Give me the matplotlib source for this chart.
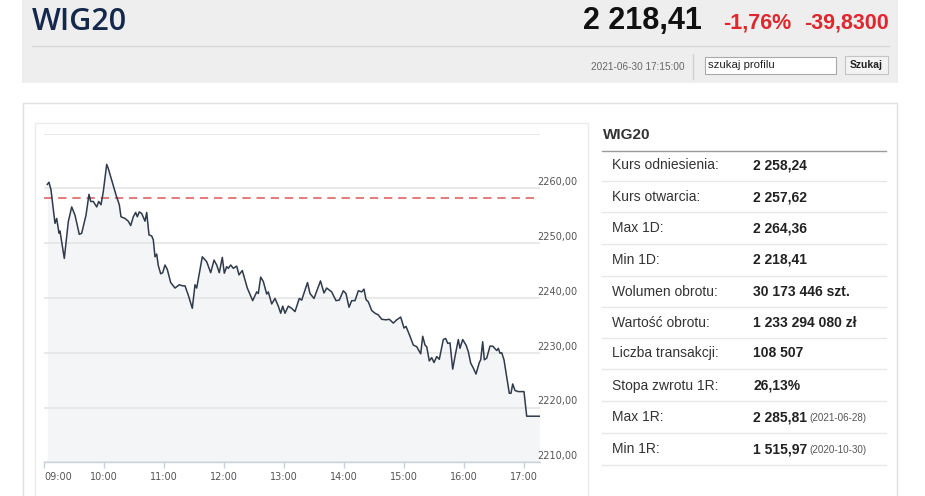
import matplotlib
matplotlib.use("Agg")
import matplotlib.pyplot as plt
from matplotlib.patches import Rectangle

# intraday WIG20 quotes, minutes after 09:00 and index level
minutes_after_9 = [
    3.0, 4.7, 6.7, 10.7, 12.4, 14.7, 15.7, 20.0, 24.0, 27.4, 30.7, 35.0, 37.4, 41.7,
    44.7, 46.4, 49.0, 52.4, 54.4, 56.7, 59.0, 62.4, 64.0, 67.4, 71.7, 75.0, 76.7, 80.7,
    84.0, 86.4, 89.0, 91.4, 93.0, 95.0, 97.4, 100.7, 102.4, 104.7, 107.4, 109.0, 110.7,
    112.4, 114.0, 116.4, 118.4, 120.7, 123.0, 126.4, 130.7, 135.0, 138.4, 140.7, 144.0,
    148.0, 150.7, 152.4, 158.0, 162.4, 166.4, 169.7, 172.4, 175.0, 178.0, 180.0, 182.4,
    184.0, 186.4, 189.0, 192.4, 194.7, 198.0, 203.0, 208.4, 212.4, 214.0, 216.4, 219.0,
    222.4, 224.0, 227.4, 230.7, 234.0, 236.4, 238.4, 240.7, 244.0, 247.4, 250.7, 255.0,
    257.4, 263.2, 265.7, 269.7, 276.2, 279.7, 282.4, 287.4, 291.7, 295.0, 299.0, 301.7,
    304.7, 307.4, 310.7, 314.0, 317.4, 319.7, 321.7, 324.0, 327.4, 330.7, 334.0, 337.4,
    341.7, 345.0, 349.0, 352.4, 356.4, 359.7, 361.7, 365.7, 369.0, 372.4, 376.4, 378.4,
    380.7, 382.4, 385.0, 387.4, 389.7, 392.4, 395.0, 399.0, 401.4, 403.4, 405.7, 408.4,
    410.7, 414.0, 415.7, 418.4, 421.7, 424.0, 426.4, 429.0, 431.7, 435.0, 436.4, 438.4,
    440.0, 442.4, 445.7, 448.4, 452.4, 454.0, 455.7, 457.4, 459.7, 462.4, 465.0, 466.7,
    468.4, 470.7, 474.0, 479.7, 482.4, 495.0,
]
index_level = [
    2260.7, 2261.1, 2259.7, 2253.6, 2254.5, 2251.8, 2252.2, 2247.2, 2253.9, 2256.6, 2255.1,
    2251.6, 2251.8, 2255.1, 2258.9, 2257.6, 2257.6, 2256.6, 2257.6, 2257.0, 2259.4, 2264.36,
    2263.6, 2261.5, 2258.8, 2257.0, 2254.8, 2254.5, 2254.0, 2253.2, 2254.8, 2255.6, 2254.8,
    2255.7, 2255.4, 2254.0, 2255.6, 2251.5, 2251.3, 2250.6, 2247.5, 2248.0, 2245.9, 2244.4,
    2244.6, 2246.0, 2245.2, 2242.8, 2241.8, 2242.4, 2242.2, 2242.2, 2240.5, 2238.1, 2242.4,
    2241.8, 2247.5, 2246.6, 2244.6, 2246.9, 2246.0, 2244.6, 2247.4, 2244.5, 2245.7, 2245.4,
    2246.0, 2245.4, 2245.8, 2244.2, 2245.0, 2241.8, 2239.5, 2241.1, 2240.8, 2243.8, 2243.0,
    2240.7, 2241.1, 2238.9, 2239.9, 2238.5, 2237.2, 2238.5, 2237.2, 2238.5, 2238.1, 2237.5,
    2239.9, 2239.6, 2242.8, 2240.8, 2239.9, 2243.1, 2240.9, 2241.8, 2241.1, 2239.5, 2239.6,
    2241.3, 2240.8, 2238.3, 2239.5, 2239.5, 2241.3, 2241.1, 2241.6, 2239.7, 2239.3, 2237.7,
    2237.2, 2236.9, 2236.1, 2236.0, 2236.1, 2235.4, 2236.0, 2236.5, 2234.5, 2234.8, 2233.0,
    2231.4, 2231.1, 2229.8, 2233.0, 2231.4, 2231.1, 2228.5, 2229.1, 2228.2, 2229.3, 2228.8,
    2232.4, 2232.6, 2231.7, 2231.8, 2227.0, 2229.3, 2232.4, 2230.8, 2232.4, 2231.4, 2230.2,
    2228.1, 2227.2, 2226.1, 2228.2, 2228.7, 2232.0, 2228.7, 2229.0, 2231.2, 2231.2, 2230.4,
    2230.8, 2229.9, 2230.0, 2228.7, 2225.6, 2222.6, 2222.6, 2224.3, 2223.1, 2222.9, 2222.9,
    2218.41, 2218.41,
]
reference_price = 2258.24

hour_ticks = [0, 60, 120, 180, 240, 300, 360, 420, 480]
hour_labels = ["09:00", "10:00", "11:00", "12:00", "13:00", "14:00", "15:00", "16:00", "17:00"]
level_ticks = [2210, 2220, 2230, 2240, 2250, 2260, 2270]
level_labels = [2210, 2220, 2230, 2240, 2250, 2260]

# header
header_name = "WIG20"
last_price = "2 218,41"
change_pct = "-1,76%"
change_abs = "-39,8300"
timestamp = "2021-06-30 17:15:00"

# side table
row_names = ["Kurs odniesienia:", "Kurs otwarcia:", "Max 1D:", "Min 1D:", "Wolumen obrotu:",
             "Wartość obrotu:", "Liczba transakcji:", "Stopa zwrotu 1R:", "Max 1R:", "Min 1R:"]
row_values = ["2 258,24", "2 257,62", "2 264,36", "2 218,41", "30 173 446 szt.",
              "1 233 294 080 zł", "108 507", "26,13%", "2 285,81", "1 515,97"]
row_dates = ["", "", "", "", "", "", "", "", "(2021-06-28)", "(2020-10-30)"]

W, H = 925, 496
fig = plt.figure(figsize=(W / 100, H / 100), dpi=100)
fig.patch.set_facecolor("white")

# page layer in pixel coordinates
bg = fig.add_axes([0, 0, 1, 1], zorder=0)
bg.set_xlim(0, W)
bg.set_ylim(H, 0)
bg.axis("off")

sans = ["Liberation Sans", "DejaVu Sans"]

bg.add_patch(Rectangle((22.3, 0), 876, 83.3, fc="#eeeeee", ec="none"))
bg.plot([31.7, 889], [45.5, 45.5], color="#d6d6d6", lw=1)
bg.text(31.7, 30.5, header_name, fontsize=22, fontweight=600, color="#13284a",
        family=["Open Sans", "DejaVu Sans"], va="baseline", ha="left")
bg.text(582.7, 28.5, last_price, fontsize=22, fontweight="bold", color="#111111",
        family=sans, va="baseline", ha="left")
bg.text(722.7, 28.5, change_pct, fontsize=15.5, fontweight="bold", color="#e0262e",
        family=sans, va="baseline", ha="left")
bg.text(889.3, 28.5, change_abs, fontsize=15.5, fontweight="bold", color="#e0262e",
        family=sans, va="baseline", ha="right")
bg.text(684.3, 66.7, timestamp, fontsize=7.2, color="#666666", family=sans, va="center", ha="right")
bg.plot([693.3, 693.3], [54, 79], color="#d0d0d0", lw=1)
bg.add_patch(Rectangle((705, 56.7), 130.7, 17.3, fc="white", ec="#a9a9a9", lw=0.8))
bg.text(708.5, 64.8, "szukaj profilu", fontsize=8.2, color="#222222", family=sans, va="center", ha="left")
bg.add_patch(Rectangle((845, 56), 43.3, 18, fc="#f3f3f3", ec="#c4c4c4", lw=0.8))
bg.text(866.7, 65.3, "Szukaj", fontsize=7.5, fontweight="bold", color="#222222", family=sans,
        va="center", ha="center")

# content panel and chart box
bg.add_patch(Rectangle((23.3, 103.3), 873.7, 400, fc="white", ec="#e0e0e0", lw=1))
bg.add_patch(Rectangle((35.3, 123.3), 552.2, 380, fc="none", ec="#ececec", lw=1))

# side table
bg.text(603.3, 135, header_name, fontsize=11, fontweight="bold", color="#333333", family=sans,
        va="center", ha="left")
bg.plot([601.7, 886], [150.7, 150.7], color="#9a9a9a", lw=1)
row_y = [165, 197.3, 228.3, 260, 291.7, 322.7, 353.3, 386, 417.3, 449.3]
sep_y = [181, 212.3, 244.3, 275.7, 306.7, 338.3, 369.3, 401, 432.7, 465]
for name, value, date, y, s in zip(row_names, row_values, row_dates, row_y, sep_y):
    bg.text(611.7, y, name, fontsize=10, color="#333333", family=sans, va="center", ha="left")
    bg.text(753.3, y, value, fontsize=10, fontweight="bold", color="#222222", family=sans,
            va="center", ha="left")
    if date:
        bg.text(809.3, y + 0.5, date, fontsize=7.1, color="#555555", family=sans, va="center", ha="left")
    bg.plot([601.7, 886], [s, s], color="#e8e8e8", lw=1)

# chart
left_px, right_px, top_px, bottom_px = 44.3, 540, 133.5, 462.3
ax = fig.add_axes([left_px / W, 1 - bottom_px / H, (right_px - left_px) / W, (bottom_px - top_px) / H],
                  zorder=1)
ax.set_facecolor("none")
ax.set_xlim(0, right_px - left_px)
ax.set_ylim(2210, 2270)

# area first, gridlines drawn over it
ax.fill_between(minutes_after_9, index_level, 2210, color="#f3f5f7", lw=0, zorder=0.1)
ax.set_yticks(level_ticks)
ax.yaxis.grid(True, color="#e5e5e5", lw=1.2)
ax.set_axisbelow(True)
ax.tick_params(axis="y", length=0, labelleft=False)
ax.axhline(reference_price, color="#e06464", lw=1.2, ls=(0, (5, 3.5)), zorder=2)
ax.plot(minutes_after_9, index_level, color="#2f3a4a", lw=1.1, zorder=3)

for side in ["top", "left", "right"]:
    ax.spines[side].set_visible(False)
ax.spines["bottom"].set_color("#c9d3dd")
ax.spines["bottom"].set_linewidth(1)

ax.set_xticks(hour_ticks)
ax.set_xticklabels(hour_labels)
ax.tick_params(axis="x", color="#c9d3dd", length=4.5, width=1, direction="out",
               labelsize=7, labelcolor="#555555", pad=2.5)
ax.get_xticklabels()[0].set_ha("left")

for v in level_labels:
    ax.text(492.7, v + 1.1, f"{v:.2f}".replace(".", ","), fontsize=7, color="#555555",
            va="center", ha="left", clip_on=False)

fig.savefig("out.png", dpi=100)
